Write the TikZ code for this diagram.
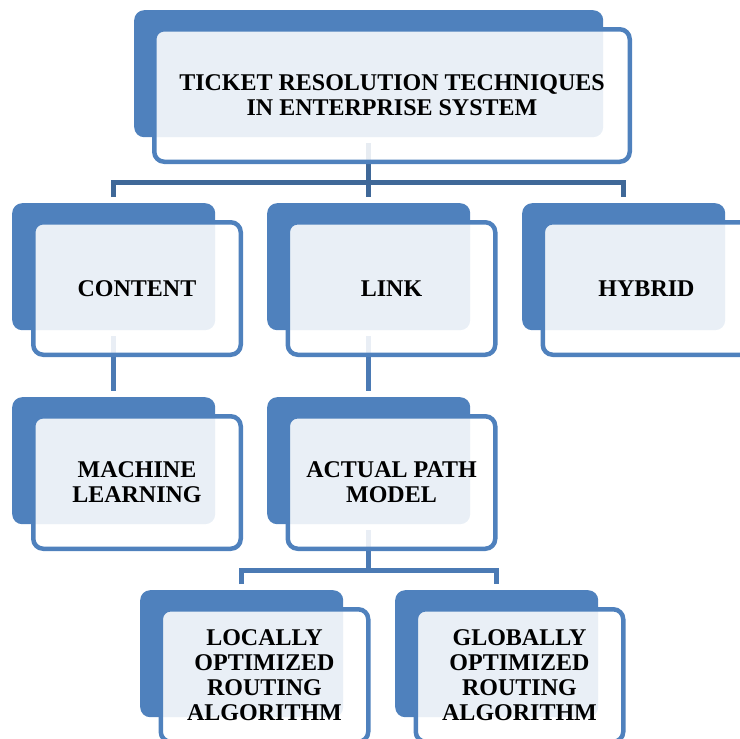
\documentclass[tikz,border=0pt]{standalone}
\usepackage{fontspec}
\setmainfont{Liberation Serif}
\usetikzlibrary{backgrounds,calc}
\definecolor{tierblue}{HTML}{4F81BD}
\definecolor{linkdark}{HTML}{3F6898}
\definecolor{linkmid}{HTML}{4B7AB4}
\tikzset{
  backbox/.style={rectangle, rounded corners=10pt, fill=tierblue, inner sep=0pt,
    anchor=north west, minimum width=#1, minimum height=127pt},
  backbox/.default=203pt,
  frontbox/.style={rectangle, rounded corners=10pt, draw=tierblue, line width=4.5pt,
    fill=white, fill opacity=0.88, text opacity=1, inner sep=0pt, align=center,
    minimum width=#1, minimum height=132.5pt,
    font=\fontsize{24}{25}\selectfont\bfseries},
  frontbox/.default=207.5pt,
  conn/.style={line width=5pt, draw=#1, shorten <=6pt, shorten >=6pt, line join=miter},
}
\begin{document}
\begin{tikzpicture}[x=1pt,y=-1pt]
\useasboundingbox (0,0) rectangle (740,739);

% root
\node[backbox=469pt] (topb) at (134,10) {};
\node[frontbox=475.5pt] (top) at (392,95.5)
  {TICKET RESOLUTION TECHNIQUES\\IN ENTERPRISE SYSTEM};

% second tier
\node[backbox] (contb) at (12,203) {};
\node[frontbox] (cont) at (137,288.5) {CONTENT};
\node[backbox] (linkb) at (267,203) {};
\node[frontbox] (link) at (391.5,288.5) {LINK};
\node[backbox] (hybb) at (522,203) {};
\node[frontbox] (hyb) at (646.5,288.5) {HYBRID};

% third tier
\node[backbox] (mlb) at (12,397) {};
\node[frontbox] (ml) at (137,482.5) {MACHINE\\LEARNING};
\node[backbox] (apb) at (267,397) {};
\node[frontbox] (ap) at (391.5,482.5) {ACTUAL PATH\\MODEL};

% fourth tier
\node[backbox] (locb) at (140,590) {};
\node[frontbox] (loc) at (264.5,675.5) {LOCALLY\\OPTIMIZED\\ROUTING\\ALGORITHM};
\node[backbox] (globb) at (395,590) {};
\node[frontbox] (glob) at (519.5,675.5) {GLOBALLY\\OPTIMIZED\\ROUTING\\ALGORITHM};

% connectors, behind the boxes
\begin{scope}[on background layer]
  \coordinate (j1) at ($(topb.south)+(0,45)$);
  \coordinate (j2) at ($(apb.south)+(0,46)$);
  \draw[conn=linkdark] (contb.north) |- (j1) -| (hybb.north);
  \draw[conn=linkdark] (topb.south) -- (linkb.north);
  \draw[conn=linkmid] (contb.south) -- (mlb.north);
  \draw[conn=linkmid] (linkb.south) -- (apb.north);
  \draw[conn=linkmid] (locb.north) |- (j2) -| (globb.north);
  \draw[conn=linkmid, shorten >=0pt] (apb.south) -- (j2);
\end{scope}
\end{tikzpicture}
\end{document}
